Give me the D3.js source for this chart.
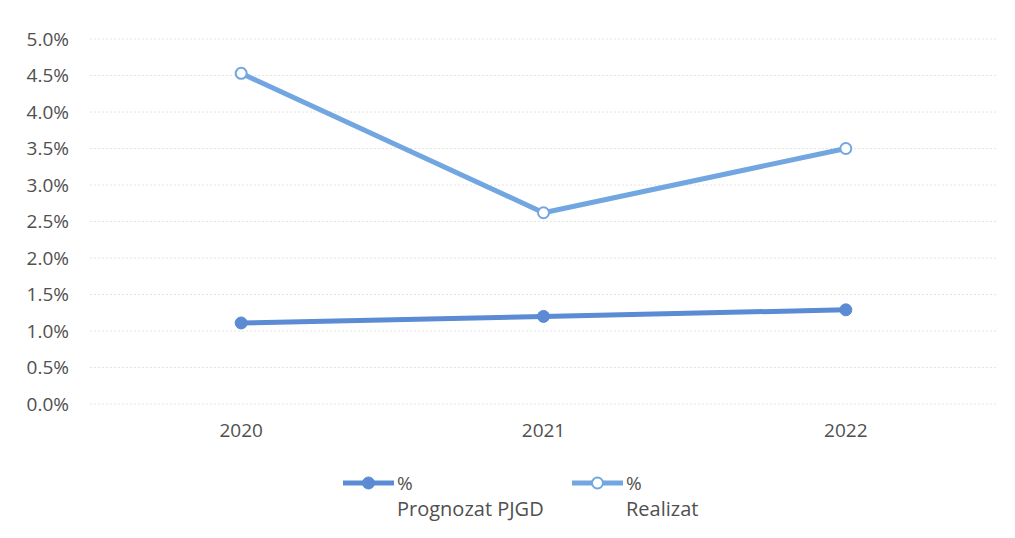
<!DOCTYPE html>
<html><head><meta charset="utf-8">
<script src="https://cdn.jsdelivr.net/npm/d3@7"></script>
<style>body{margin:0;background:#fff}svg{display:block}text{font-family:"Open Sans","Noto Sans",sans-serif;fill:#505050}</style>
</head><body><svg id="c" width="1015" height="538"></svg>
<script>
const years = ["2020","2021","2022"];
const prognozat = [1.11, 1.20, 1.29];
const realizat = [4.53, 2.62, 3.50];
const yTicks = [0,0.5,1,1.5,2,2.5,3,3.5,4,4.5,5];
const seriesNames = ["Prognozat PJGD","Realizat"];

const svg = d3.select("#c");
const x = d3.scaleBand().domain(years).range([90,997]);
const y = d3.scaleLinear().domain([0,5]).range([404,39]);
const cx = d => x(d) + x.bandwidth()/2;

const g = svg.append("g");
g.selectAll("line.grid").data(yTicks).join("line")
  .attr("x1",90).attr("x2",997).attr("y1",d=>y(d)).attr("y2",d=>y(d))
  .attr("stroke","#e4e4e4").attr("stroke-width",1).attr("stroke-dasharray","2,2");

const yAxis = d3.axisLeft(y).tickValues(yTicks).tickFormat(d=>d.toFixed(1)+"%").tickSize(0).tickPadding(0);
const ya = svg.append("g").attr("transform","translate(69,0)").call(yAxis);
ya.select(".domain").remove();
ya.selectAll("text").style("font-size","19px").attr("fill","#505050");

const xAxis = d3.axisBottom(x).tickSize(0).tickPadding(0);
const xa = svg.append("g").attr("transform","translate(0,423)").call(xAxis);
xa.select(".domain").remove();
xa.selectAll("text").style("font-size","19px").attr("fill","#505050");

const series = [
  {name:"Prognozat PJGD", vals:prognozat, color:"#5b8bd2", filled:true},
  {name:"Realizat", vals:realizat, color:"#72a6e0", filled:false}
];
const line = d3.line().x((d,i)=>cx(years[i])).y(d=>y(d));
series.forEach(s=>{
  svg.append("path").attr("d",line(s.vals)).attr("fill","none")
    .attr("stroke",s.color).attr("stroke-width",5).attr("stroke-linejoin","round");
  svg.selectAll(null).data(s.vals).join("circle")
    .attr("cx",(d,i)=>cx(years[i])).attr("cy",d=>y(d)).attr("r",s.filled?6:5.5)
    .attr("fill",s.filled?s.color:"#fff").attr("stroke",s.color).attr("stroke-width",s.filled?1:2);
});

// legend
const lx = [343,572];
series.forEach((s,i)=>{
  const lg = svg.append("g").attr("transform",`translate(${lx[i]},483)`);
  lg.append("line").attr("x1",0).attr("x2",51).attr("stroke",s.color).attr("stroke-width",5);
  lg.append("circle").attr("cx",25.5).attr("r",s.filled?6:5.5)
    .attr("fill",s.filled?s.color:"#fff").attr("stroke",s.color).attr("stroke-width",s.filled?1:2);
  lg.append("text").attr("x",54).attr("y",7).style("font-size","19px").text("%");
  lg.append("text").attr("x",54).attr("y",33).style("font-size","20px").text(seriesNames[i]);
});
</script></body></html>
